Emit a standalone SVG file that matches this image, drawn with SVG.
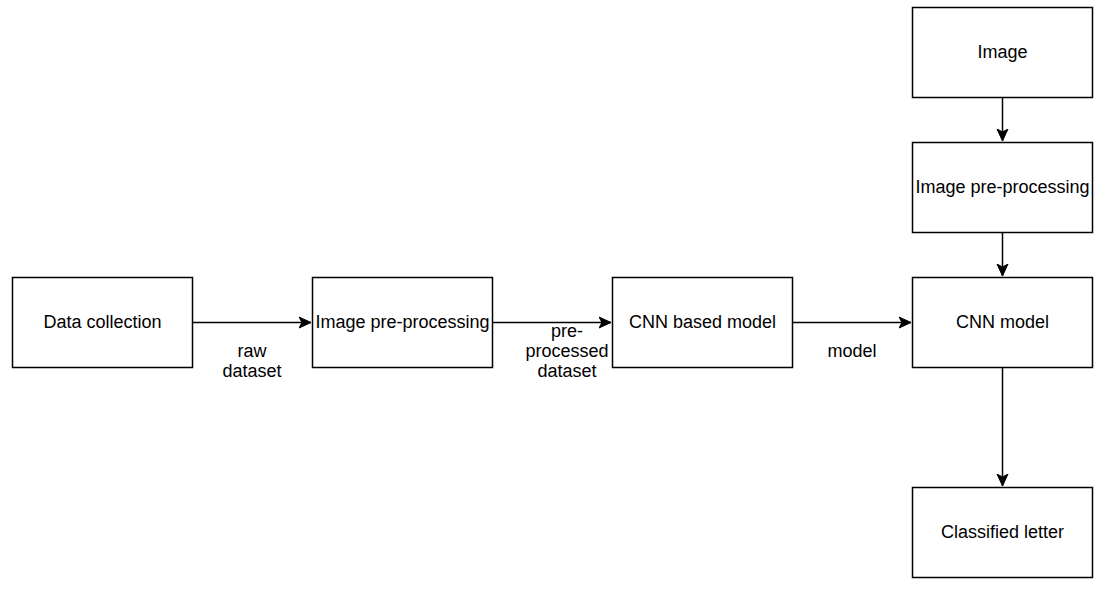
<svg xmlns="http://www.w3.org/2000/svg" width="1116" height="601" viewBox="0 0 1116 601">
<style>
.box{fill:#fff;stroke:#000;stroke-width:1.5}
.t{font-family:"Liberation Sans",Arial,sans-serif;font-size:18px;fill:#000;text-anchor:middle}
.e{fill:none;stroke:#000;stroke-width:1.5}
</style>
<defs>
<marker id="arr" markerUnits="userSpaceOnUse" markerWidth="14" markerHeight="14" viewBox="0 0 14 14" refX="12" refY="7" orient="auto">
<path d="M0,1.5 L12,7 L0,12.5 L3,7 Z" fill="#000" stroke="#000" stroke-width="1"/>
</marker>
</defs>
<rect width="1116" height="601" fill="#fff"/>
<g id="connectors">
<path class="e" d="M192.5,322.5 H311" marker-end="url(#arr)"/>
<path class="e" d="M492.5,322.5 H611" marker-end="url(#arr)"/>
<path class="e" d="M792.5,322.5 H911" marker-end="url(#arr)"/>
<path class="e" d="M1002.5,97.5 V141" marker-end="url(#arr)"/>
<path class="e" d="M1002.5,232.5 V276" marker-end="url(#arr)"/>
<path class="e" d="M1002.5,367.5 V486" marker-end="url(#arr)"/>
<text class="t" x="252" y="357">raw</text>
<text class="t" x="252" y="377">dataset</text>
<text class="t" x="567" y="337">pre-</text>
<text class="t" x="567" y="357">processed</text>
<text class="t" x="567" y="377">dataset</text>
<text class="t" x="852" y="357">model</text>
</g>
<g id="data-collection">
<rect class="box" x="12.5" y="277.5" width="180" height="90"/>
<text class="t" x="102.5" y="328">Data collection</text>
</g>
<g id="image-preprocessing-1">
<rect class="box" x="312.5" y="277.5" width="180" height="90"/>
<text class="t" x="402.5" y="328">Image pre-processing</text>
</g>
<g id="cnn-based-model">
<rect class="box" x="612.5" y="277.5" width="180" height="90"/>
<text class="t" x="702.5" y="328">CNN based model</text>
</g>
<g id="cnn-model">
<rect class="box" x="912.5" y="277.5" width="180" height="90"/>
<text class="t" x="1002.5" y="328">CNN model</text>
</g>
<g id="image">
<rect class="box" x="912.5" y="7.5" width="180" height="90"/>
<text class="t" x="1002.5" y="58">Image</text>
</g>
<g id="image-preprocessing-2">
<rect class="box" x="912.5" y="142.5" width="180" height="90"/>
<text class="t" x="1002.5" y="193">Image pre-processing</text>
</g>
<g id="classified-letter">
<rect class="box" x="912.5" y="487.5" width="180" height="90"/>
<text class="t" x="1002.5" y="538">Classified letter</text>
</g>
</svg>
